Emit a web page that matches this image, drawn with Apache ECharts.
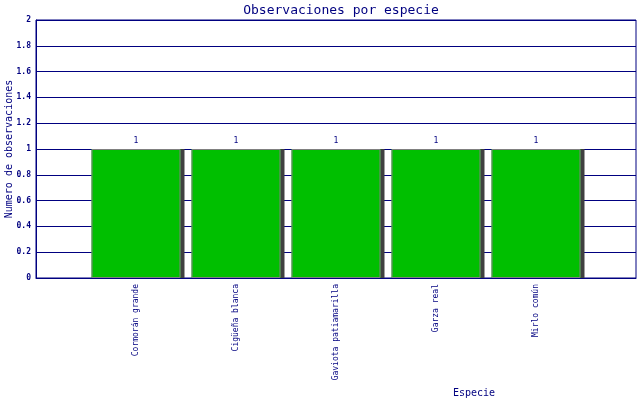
<!DOCTYPE html>
<html>
<head>
<meta charset="utf-8">
<script src="https://cdn.jsdelivr.net/npm/echarts@6/dist/echarts.min.js"></script>
<style>
html, body { margin: 0; padding: 0; background: #fff; }
#chart { width: 640px; height: 400px; }
</style>
</head>
<body>
<div id="chart"></div>
<script>
var species = ['Cormorán grande', 'Cigüeña blanca', 'Gaviota patiamarilla', 'Garza real', 'Mirlo común'];
var counts = [1, 1, 1, 1, 1];
var yMin = 0, yMax = 2, yStep = 0.2;

var navy = '#000080';
var mono = 'DejaVu Sans Mono';

// empty slot on each side, so the bars sit on the inner ticks
var slots = [''].concat(species, ['']);
var values = ['-'].concat(counts, ['-']);

var chartobj = echarts.init(document.getElementById('chart'));
var option = {
    animation: false,
    title: {
        text: 'Observaciones por especie',
        left: 336,
        top: -1,
        textAlign: 'center',
        textStyle: { color: navy, fontFamily: mono, fontSize: 13, fontWeight: 'normal' }
    },
    grid: {
        left: 36, right: 4, top: 20, bottom: 122,
        outerBoundsMode: 'none',
        containLabel: false,
        show: true, borderColor: navy, borderWidth: 1
    },
    xAxis: {
        type: 'category',
        data: slots,
        boundaryGap: false,
        name: 'Especie',
        nameLocation: 'middle',
        nameGap: 110,
        nameMoveOverlap: false,
        nameTextStyle: { color: navy, fontFamily: mono, fontSize: 10, padding: [0, 0, 0, 276] },
        axisLine: { lineStyle: { color: navy, width: 1 } },
        axisTick: { show: false },
        axisLabel: {
            interval: 0, rotate: 90, margin: 6,
            color: navy, fontFamily: mono, fontSize: 8
        },
        splitLine: { show: false }
    },
    yAxis: {
        type: 'value',
        min: yMin, max: yMax, interval: yStep,
        name: 'Numero de observaciones',
        nameLocation: 'middle',
        nameGap: 22,
        nameMoveOverlap: false,
        nameTextStyle: { color: navy, fontFamily: mono, fontSize: 10 },
        axisLine: { show: true, lineStyle: { color: navy, width: 1 } },
        axisTick: { show: false },
        axisLabel: { color: navy, fontFamily: mono, fontSize: 8, fontWeight: 'bold', margin: 5 },
        splitLine: { show: true, lineStyle: { color: navy, width: 1 } }
    },
    series: [
        {
            // green fill with its drop shadow
            type: 'bar',
            data: values,
            barWidth: 89,
            z: 2,
            itemStyle: {
                color: '#00bf00',
                shadowColor: '#404040',
                shadowBlur: 0,
                shadowOffsetX: 4,
                shadowOffsetY: 0
            },
            label: {
                show: true, position: 'top', distance: 4,
                color: navy, fontFamily: mono, fontSize: 8
            }
        },
        {
            // grey outline on top, no shadow
            type: 'bar',
            data: values,
            barWidth: 89,
            barGap: '-100%',
            z: 3,
            silent: true,
            itemStyle: {
                color: 'rgba(0,0,0,0)',
                borderColor: '#808080',
                borderWidth: 1
            }
        }
    ]
};
chartobj.setOption(option);
</script>
</body>
</html>
